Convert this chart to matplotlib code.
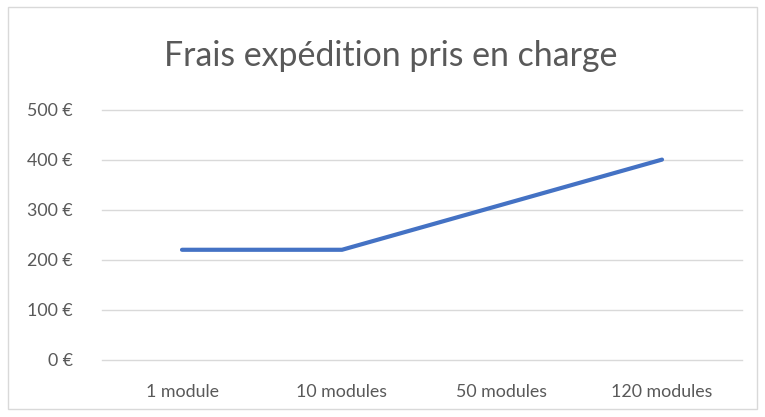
import matplotlib
matplotlib.use("Agg")
import matplotlib.pyplot as plt
from matplotlib.patches import Rectangle

categories = ["1 module", "10 modules", "50 modules", "120 modules"]
values = [220, 220, 310, 400]
yticks = [0, 100, 200, 300, 400, 500]
ytick_labels = [f"{v} €" for v in yticks]

plt.rcParams['font.family'] = ['Lato', 'DejaVu Sans']
W, H = 765, 417
fig = plt.figure(figsize=(W/100, H/100), dpi=100)
fig.patch.set_facecolor("white")

# outer chart border
fig.patches.append(Rectangle((8/W, 8/H), (757-8)/W, (410-8)/H, transform=fig.transFigure,
                             fill=False, edgecolor="#d9d9d9", linewidth=1.0))

left, right = 102/W, 742/W
bottom, top = (H-360)/H, (H-109.5)/H
ax = fig.add_axes([left, bottom, right-left, top-bottom])
x = list(range(len(categories)))
ax.plot(x, values, color="#4472C4", linewidth=3.0, solid_capstyle="round", solid_joinstyle="round", zorder=3)
ax.set_xlim(-0.5, len(categories)-0.5)
ax.set_ylim(0, 500)
ax.set_yticks(yticks)
ax.set_yticklabels(ytick_labels)
ax.set_xticks(x)
ax.set_xticklabels(categories)
ax.grid(axis="y", color="#d9d9d9", linewidth=1.0)
for gl in ax.get_ygridlines():
    gl.set_clip_on(False)
ax.set_axisbelow(True)
for s in ax.spines.values():
    s.set_visible(False)
ax.tick_params(axis="both", length=0, colors="#595959", labelsize=12.8)
ax.tick_params(axis="y", pad=21)
ax.tick_params(axis="x", pad=17)

fig.text((163+618)/2/W, 1-56/H, "Frais expédition pris en charge", ha="center", va="center",
         fontsize=24.4, color="#595959")

fig.savefig("out.png", dpi=100)
